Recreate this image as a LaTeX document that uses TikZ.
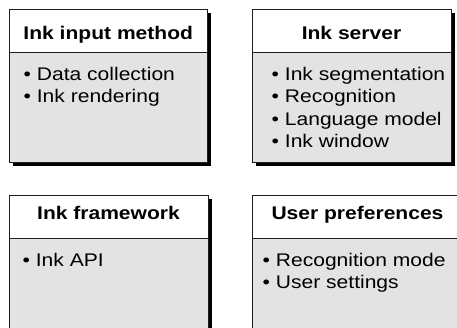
\documentclass[tikz,border=0pt]{standalone}
\usepackage{fontspec}
\setmainfont{Liberation Sans}[FakeStretch=1.15]
\usetikzlibrary{shadows}
\definecolor{bodygray}{HTML}{E3E3E3}
\definecolor{edge}{HTML}{1E1E1E}
\tikzset{
  panel/.style={draw=edge, line width=0.9pt, fill=bodygray, anchor=north west,
    inner sep=0pt, outer sep=0pt,
    drop shadow={shadow xshift=3.6pt, shadow yshift=-3.6pt, fill=black, opacity=1}},
  header/.style={draw=edge, line width=0.9pt, fill=white, anchor=north west,
    inner sep=0pt, outer sep=0pt, minimum height=42.5pt},
  title/.style={anchor=base, inner sep=0pt, font=\fontsize{18.3}{22}\selectfont\bfseries},
  item/.style={anchor=base west, inner sep=0pt, font=\fontsize{18.3}{22}\selectfont}
}
\begin{document}
\begin{tikzpicture}[x=1pt, y=-1pt]
\clip (0,0) rectangle (457,328);
\fill[white] (0,0) rectangle (457,328);

% Ink input method
\node[panel, minimum width=198.5pt, minimum height=153pt] (p1) at (9,9.5) {};
\node[header, minimum width=198.5pt] (h1) at (p1.north west) {};
\node[title] (t1) at (108.25,40) {Ink input method};
\node[item] (i11) at (23.5,80.5) {• Data collection};
\node[item] (i12) at (23.5,102.8) {• Ink rendering};

% Ink server
\node[panel, minimum width=199pt, minimum height=153pt] (p2) at (252,9.5) {};
\node[header, minimum width=199pt] (h2) at (p2.north west) {};
\node[title] (t2) at (351.5,40) {Ink server};
\node[item] (i21) at (271.5,80.5) {• Ink segmentation};
\node[item] (i22) at (271.5,102.8) {• Recognition};
\node[item] (i23) at (271.5,125.1) {• Language model};
\node[item] (i24) at (271.5,147.4) {• Ink window};

% Ink framework
\node[panel, minimum width=199pt, minimum height=160pt] (p3) at (9,195.5) {};
\node[header, minimum width=199pt] (h3) at (p3.north west) {};
\node[title] (t3) at (108.5,220) {Ink framework};
\node[item] (i31) at (22.5,266.5) {• Ink API};

% User preferences
\node[panel, minimum width=211pt, minimum height=160pt] (p4) at (252,195.5) {};
\node[header, minimum width=211pt] (h4) at (p4.north west) {};
\node[title] (t4) at (357.5,220) {User preferences};
\node[item] (i41) at (262.5,266.5) {• Recognition mode};
\node[item] (i42) at (262.5,288.8) {• User settings};
\end{tikzpicture}
\end{document}
